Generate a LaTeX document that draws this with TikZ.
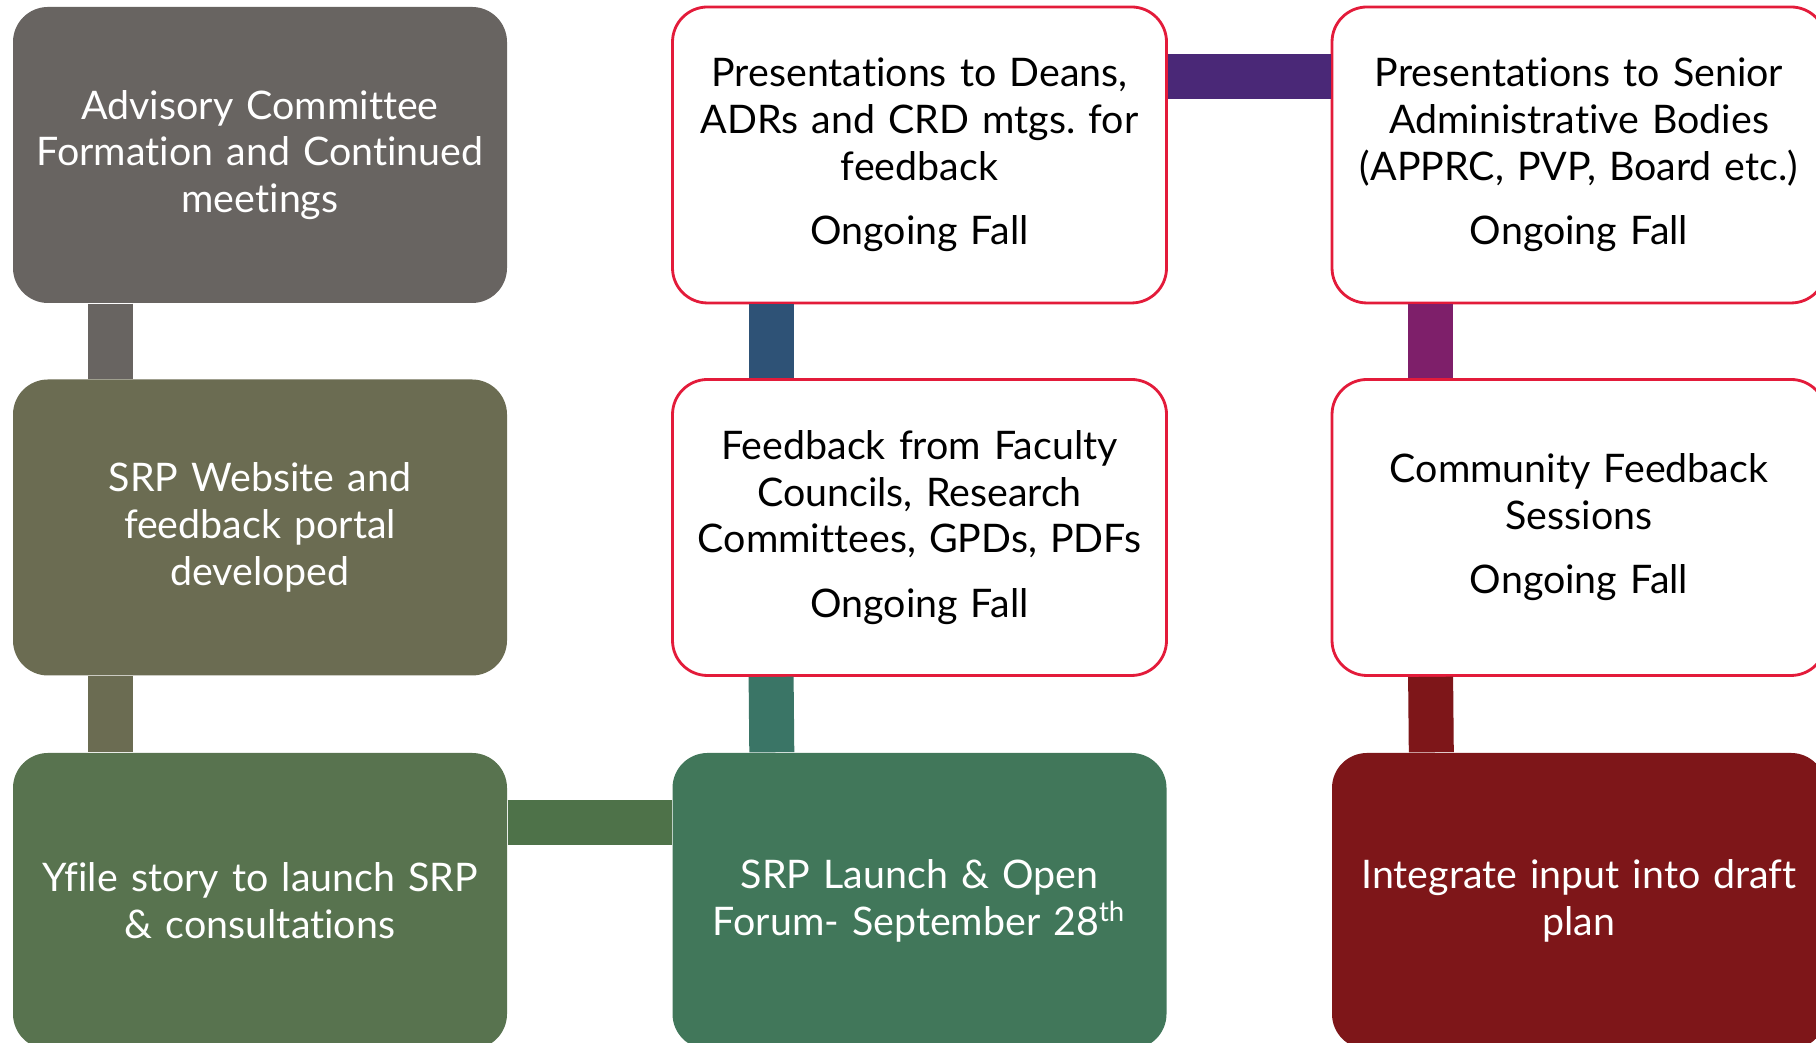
\documentclass[tikz,border=0pt]{standalone}
\usepackage{fontspec}
\setmainfont{Lato}[Ligatures=NoCommon]
\frenchspacing
\definecolor{stone}{HTML}{686461}
\definecolor{olive}{HTML}{6B6C52}
\definecolor{moss}{HTML}{58734F}
\definecolor{pine}{HTML}{41775A}
\definecolor{wine}{HTML}{7E1619}
\definecolor{rim}{HTML}{E31B3A}
\definecolor{navy}{HTML}{2E5276}
\definecolor{teal}{HTML}{3A7566}
\definecolor{grape}{HTML}{4A2877}
\definecolor{plum}{HTML}{7E1F6A}
\definecolor{fern}{HTML}{4E7249}
\tikzset{
  stepfill/.style={rounded corners=0.35cm, minimum width=4.94cm, minimum height=2.96cm,
    text width=4.8cm, inner sep=0pt, align=center, text=white,
    font=\fontsize{11.2}{13.3}\selectfont},
  stepline/.style={stepfill, draw=rim, line width=0.8pt, fill=white, text=black},
  link/.style={line width=0.45cm},
}
\begin{document}
\begin{tikzpicture}
	\useasboundingbox (0,0) rectangle (18.16,10.43);
	\clip (0,0) rectangle (18.16,10.43);
	% first column
	\node[stepfill, fill=stone] (advisory) at (2.60,8.88) {Advisory Committee\\Formation and Continued\\meetings};
	\node[stepfill, fill=olive] (website) at (2.60,5.155) {SRP Website and\\feedback portal\\developed};
	\node[stepfill, fill=moss] (yfile) at (2.60,1.42) {Yfile story to launch SRP\\\& consultations};
	% second column
	\node[stepline] (deans) at (9.195,8.88) {Presentations to Deans,\\ADRs and CRD mtgs. for\\feedback\\[5pt]Ongoing Fall};
	\node[stepline] (faculty) at (9.195,5.155) {Feedback from Faculty\\Councils, Research\\Committees, GPDs, PDFs\\[5pt]Ongoing Fall};
	\node[stepfill, fill=pine] (launch) at (9.195,1.42) {SRP Launch \& Open\\Forum- September 28\textsuperscript{th}};
	% third column
	\node[stepline] (senior) at (15.79,8.88) {Presentations to Senior\\Administrative Bodies\\(APPRC, PVP, Board etc.)\\[5pt]Ongoing Fall};
	\node[stepline] (community) at (15.79,5.155) {Community Feedback\\Sessions\\[5pt]Ongoing Fall};
	\node[stepfill, fill=wine] (draft) at (15.79,1.42) {Integrate input into draft\\plan};

	% connectors
	\draw[link, stone] ([xshift=0.98cm]advisory.south west) -- ([xshift=0.98cm]website.north west);
	\draw[link, olive] ([xshift=0.98cm]website.south west) -- ([xshift=0.98cm]yfile.north west);
	\draw[link, fern] ([yshift=-0.70cm]yfile.north east) -- ([yshift=-0.70cm]launch.north west);
	\draw[link, teal] ([xshift=1cm]launch.north west) -- ([xshift=1cm]faculty.south west);
	\draw[link, navy] ([xshift=1cm]faculty.north west) -- ([xshift=1cm]deans.south west);
	\draw[link, grape] ([yshift=-0.71cm]deans.north east) -- ([yshift=-0.71cm]senior.north west);
	\draw[link, plum] ([xshift=1cm]senior.south west) -- ([xshift=1cm]community.north west);
	\draw[link, wine] ([xshift=1cm]community.south west) -- ([xshift=1cm]draft.north west);
\end{tikzpicture}
\end{document}
